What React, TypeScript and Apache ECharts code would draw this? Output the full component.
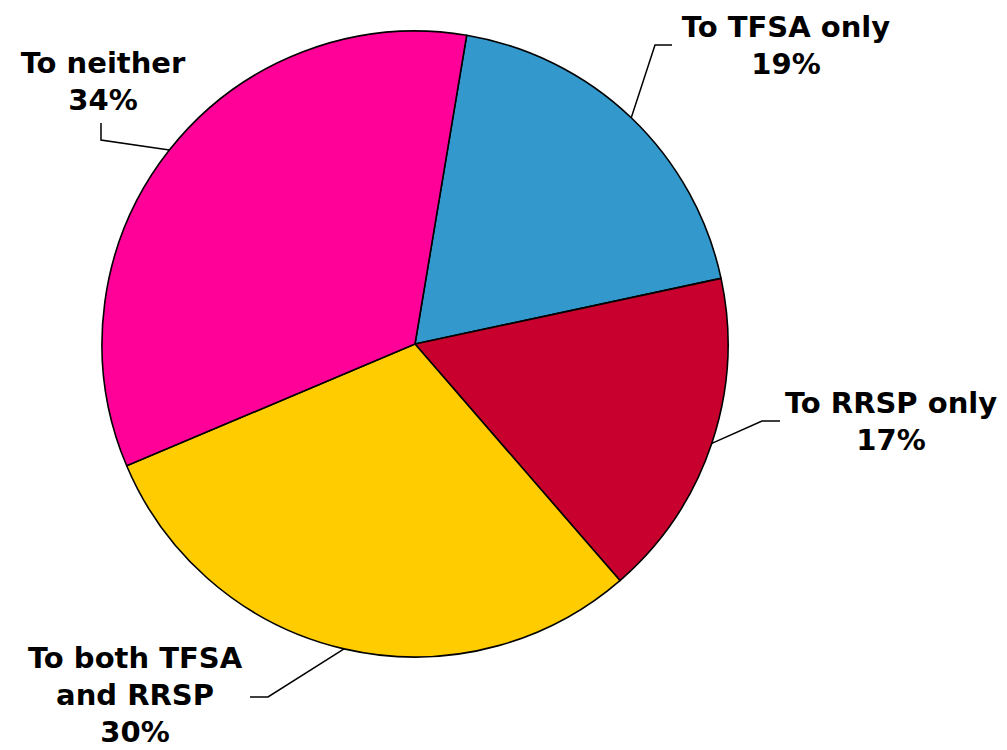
import React, { useEffect, useRef } from "react";
import * as echarts from "echarts";

const categories = ["To TFSA only", "To RRSP only", "To both TFSA\nand RRSP", "To neither"];
const values = [19, 17, 30, 34];
const colors = ["#3399CC", "#C8002D", "#FFCC00", "#FF0099"];

// label layout: text block centre, elbow and end points of leader line
const labelCenters: [number, number][] = [
  [786, 45],
  [891, 421],
  [135, 695],
  [103, 81],
];
const lineElbows: [number, number][][] = [
  [[655, 45], [672, 45]],
  [[762, 421], [780, 421]],
  [[268, 697], [250, 697]],
  [[101, 140], [101, 123]],
];

export default function App() {
  const ref = useRef<HTMLDivElement>(null);
  useEffect(() => {
    if (!ref.current) return;
    const chart = echarts.init(ref.current, undefined, { renderer: "svg" });
    chart.setOption({
      animation: false,
      backgroundColor: "#ffffff",
      series: [
        {
          type: "pie",
          center: [415, 344],
          radius: 313,
          startAngle: 80.5,
          clockwise: true,
          data: categories.map((c, i) => ({
            name: c,
            value: values[i],
            itemStyle: { color: colors[i] },
          })),
          itemStyle: { borderColor: "#000", borderWidth: 1.6 },
          label: {
            show: true,
            position: "outside",
            formatter: "{b}\n{c}%",
            fontFamily: "DejaVu Sans",
            fontWeight: "bold",
            fontSize: 29,
            lineHeight: 37,
            color: "#000",
            align: "center",
            overflow: "none",
            width: 400,
          },
          labelLine: {
            show: true,
            lineStyle: { color: "#000", width: 1.5 },
          },
          emphasis: { disabled: true },
          labelLayout: (params: any) => {
            const i = params.dataIndex;
            const start = params.labelLinePoints ? params.labelLinePoints[0] : [0, 0];
            return {
              x: labelCenters[i][0],
              y: labelCenters[i][1],
              align: "center",
              verticalAlign: "middle",
              hideOverlap: false,
              labelLinePoints: [start, lineElbows[i][0], lineElbows[i][1]],
            };
          },
        },
      ],
    });
    return () => chart.dispose();
  }, []);
  return (
    <div
      ref={ref}
      style={{ position: "fixed", left: 0, top: 0, width: 1007, height: 750 }}
    />
  );
}
